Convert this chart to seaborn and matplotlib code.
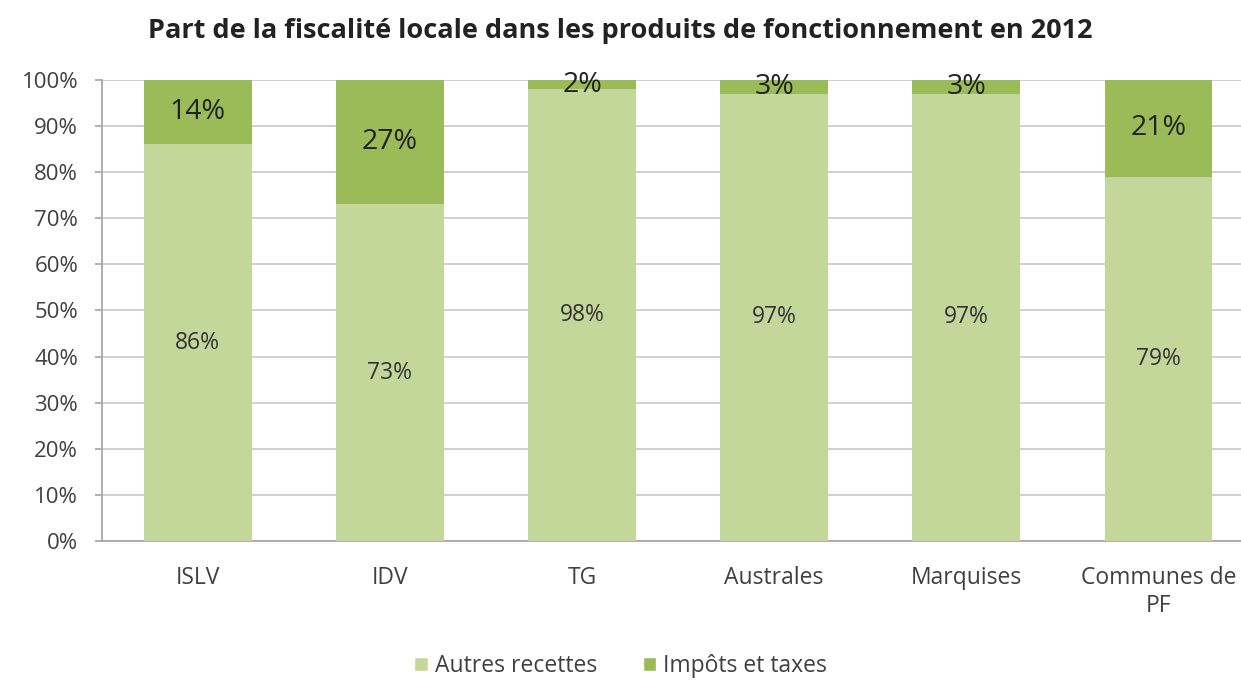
import matplotlib
matplotlib.use("Agg")
import matplotlib.pyplot as plt
from matplotlib.patches import Patch
from matplotlib.ticker import FuncFormatter
import seaborn as sns
import pandas as pd
import numpy as np

categories = ["ISLV", "IDV", "TG", "Australes", "Marquises", "Communes de\nPF"]
autres = [86, 73, 98, 97, 97, 79]
impots = [14, 27, 2, 3, 3, 21]
series_names = ["Autres recettes", "Impôts et taxes"]
title = "Part de la fiscalité locale dans les produits de fonctionnement en 2012"

c_light = "#C4D79B"
c_dark = "#9BBB59"

sns.set_theme(style="white")
plt.rcParams['font.family'] = ['Open Sans', 'DejaVu Sans']

df = pd.DataFrame({"cat": categories, "autres": autres, "impots": impots})
df["total"] = df["autres"] + df["impots"]

fig = plt.figure(figsize=(12.41, 6.83), dpi=100)
ax = fig.add_axes([0.082, 0.208, 0.918, 0.675])

sns.barplot(data=df, x="cat", y="total", color=c_dark, saturation=1, width=0.56, ax=ax,
            zorder=2, linewidth=0, edgecolor="none")
sns.barplot(data=df, x="cat", y="autres", color=c_light, saturation=1, width=0.56, ax=ax,
            zorder=3, linewidth=0, edgecolor="none")

for i, (a, b) in enumerate(zip(autres, impots)):
    ax.text(i, a / 2, f"{a}%", ha="center", va="center", fontsize=16.5, color="#333333", zorder=5)
    ax.text(i, a + b / 2, f"{b}%", ha="center", va="center", fontsize=20.5, color="#222222", zorder=5)

ax.set_ylim(0, 100)
ax.set_xlim(-0.5, 5.43)
ax.set_yticks(np.arange(0, 101, 10))
ax.yaxis.set_major_formatter(FuncFormatter(lambda v, p: f"{int(v)}%"))
ax.yaxis.grid(True, color="#C8C8C8", linewidth=1.2, zorder=0)
ax.set_axisbelow(True)
ax.set_xlabel("")
ax.set_ylabel("")
for s in ["top", "right"]:
    ax.spines[s].set_visible(False)
ax.spines["left"].set_color("#A6A6A6")
ax.spines["bottom"].set_color("#A6A6A6")
ax.tick_params(axis="y", length=5, color="#A6A6A6", labelsize=16, labelcolor="#404040", left=True, pad=12)
ax.tick_params(axis="x", length=0, labelsize=16.5, labelcolor="#404040", pad=18)
for lbl in ax.get_xticklabels():
    lbl.set_linespacing(1.25)

fig.text(0.5, 0.955, title, ha="center", va="center", fontsize=19.5, fontweight="bold", color="#222222")

handles = [Patch(facecolor=c_light, label=series_names[0]), Patch(facecolor=c_dark, label=series_names[1])]
fig.legend(handles=handles, loc="center", bbox_to_anchor=(0.5, 0.025), ncol=2, frameon=False,
           fontsize=16.5, handlelength=0.6, handleheight=0.6, handletextpad=0.3, columnspacing=2.0,
           labelcolor="#404040")

fig.savefig("out.png", dpi=100)
